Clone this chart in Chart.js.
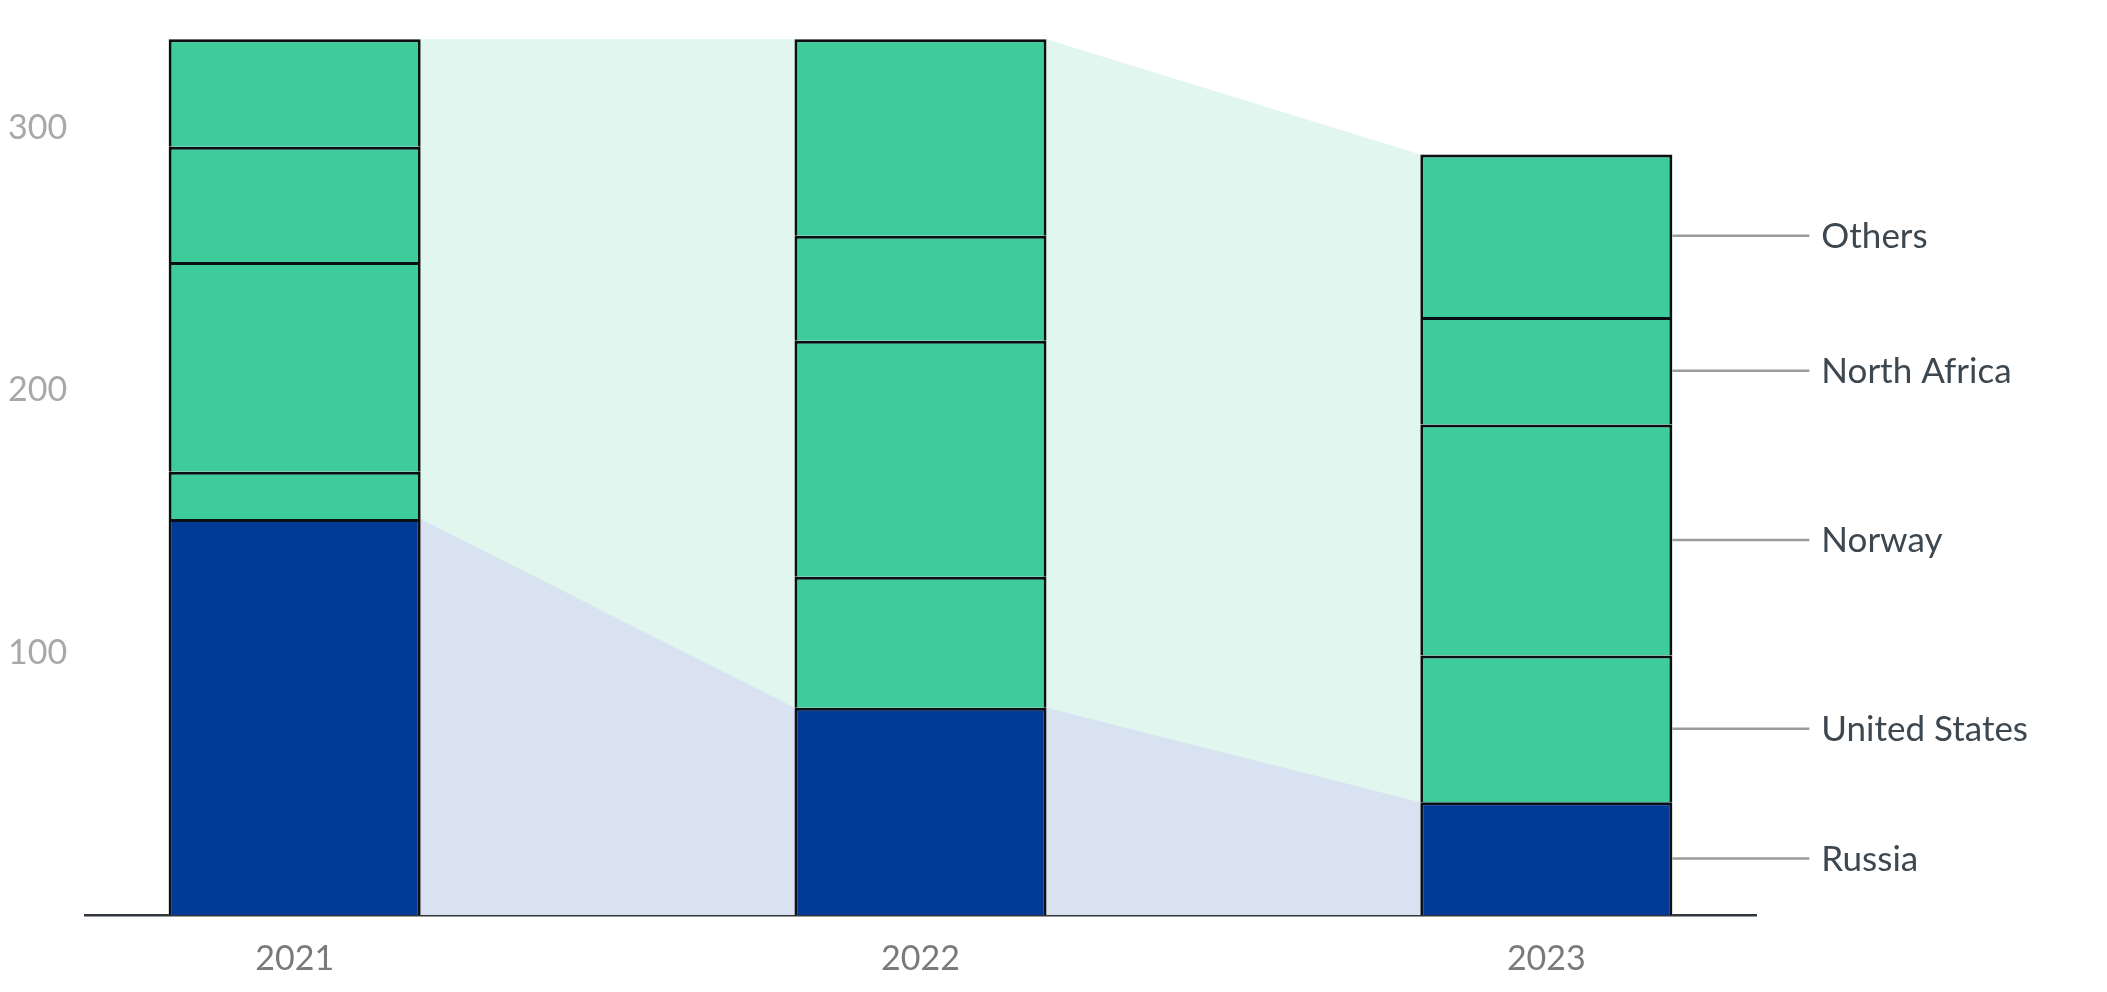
<!DOCTYPE html>
<html>
<head>
<meta charset="utf-8">
<title>Gas imports by origin</title>
<script src="https://cdn.jsdelivr.net/npm/chart.js@4.4.1/dist/chart.umd.min.js"></script>
<style>
    html, body { margin: 0; padding: 0; background: #ffffff; }
    #wrap { width: 2107px; height: 992px; }
</style>
</head>
<body>
<div id="wrap"><canvas id="gasChart" width="2107" height="992"></canvas></div>
<script>
// --- Dados ---
const years = ['2021', '2022', '2023'];
const seriesNames = ['Russia', 'United States', 'Norway', 'North Africa', 'Others'];
const russia = [151, 79, 43];
const unitedStates = [18, 50, 56];
const norway = [80, 90, 88];
const northAfrica = [44, 40, 41];
const others = [41, 75, 62];
const yTicks = [100, 200, 300];

// --- Estilo ---
const BLUE = '#003996';
const GREEN = '#3ecc9c';
const AREA_BLUE = '#d9e2f1';
const AREA_GREEN = '#e0f6ef';
const FONT = 'Lato, "Open Sans", sans-serif';
const BAR_FRAC = 0.4027; // largura da barra em relação ao espaço entre anos

window.onload = function () {
    const ctx = document.getElementById('gasChart').getContext('2d');
    const seriesValues = [russia, unitedStates, norway, northAfrica, others];

    // total de cada ano (topo da barra)
    const totals = years.map((y, i) => seriesValues.reduce((s, arr) => s + arr[i], 0));

    // pontos nas bordas das barras, para as áreas de ligação
    const half = BAR_FRAC / 2;
    function edgePoints(values) {
        const pts = [];
        values.forEach((v, i) => {
            pts.push({ x: i - half, y: v });
            pts.push({ x: i + half, y: v });
        });
        return pts;
    }

    const barSets = seriesNames.map((name, s) => ({
        type: 'bar',
        label: name,
        data: seriesValues[s].map((v, i) => ({ x: i, y: v })),
        backgroundColor: s === 0 ? BLUE : GREEN,
        borderColor: '#0a0f14',
        borderWidth: 3,
        barPercentage: BAR_FRAC,
        categoryPercentage: 1,
        order: 0
    }));

    const areaSets = [
        {
            type: 'line',
            label: 'total',
            data: edgePoints(totals),
            backgroundColor: AREA_GREEN,
            borderWidth: 0,
            pointRadius: 0,
            fill: 'origin',
            tension: 0,
            stack: 'areaTotal',
            order: 2
        },
        {
            type: 'line',
            label: 'russia',
            data: edgePoints(russia),
            backgroundColor: AREA_BLUE,
            borderWidth: 0,
            pointRadius: 0,
            fill: 'origin',
            tension: 0,
            stack: 'areaRussia',
            order: 1
        }
    ];

    // rótulos à direita da última barra, com linha guia
    const sideLabels = {
        id: 'sideLabels',
        afterDatasetsDraw(chart) {
            const c = chart.ctx;
            const last = years.length - 1;
            c.save();
            c.font = '35px ' + FONT;
            c.textBaseline = 'middle';
            c.textAlign = 'left';
            seriesNames.forEach((name, s) => {
                const bar = chart.getDatasetMeta(s).data[last];
                const yMid = (bar.y + bar.base) / 2;
                const xRight = bar.x + bar.width / 2;
                c.strokeStyle = '#9b9b9b';
                c.lineWidth = 2.5;
                c.beginPath();
                c.moveTo(xRight, yMid);
                c.lineTo(xRight + 137, yMid);
                c.stroke();
                c.fillStyle = '#3c4750';
                c.fillText(name, xRight + 149, yMid + 1);
            });
            c.restore();
        }
    };

    new Chart(ctx, {
        data: { datasets: [...barSets, ...areaSets] },
        options: {
            responsive: false,
            animation: false,
            events: [],
            layout: { padding: { top: 20, left: 8, right: 351, bottom: 0 } },
            scales: {
                x: {
                    type: 'linear',
                    stacked: true,
                    offset: false,
                    min: -0.335,
                    max: 2.335,
                    afterBuildTicks: (scale) => { scale.ticks = years.map((y, i) => ({ value: i })); },
                    afterFit: (scale) => { scale.height = 77; },
                    grid: { display: false, drawTicks: false, offset: false },
                    border: { display: true, color: '#30363c', width: 2.5 },
                    ticks: {
                        padding: 24,
                        color: '#7a7a7a',
                        font: { family: FONT, size: 34 },
                        callback: (v) => years[v]
                    }
                },
                y: {
                    stacked: true,
                    min: 0,
                    max: 340,
                    afterBuildTicks: (scale) => { scale.ticks = yTicks.map(v => ({ value: v })); },
                    afterFit: (scale) => { scale.width = 77; },
                    grid: { display: false, drawTicks: false },
                    border: { display: false },
                    ticks: {
                        crossAlign: 'far',
                        color: '#a8a8a8',
                        font: { family: FONT, size: 34 }
                    }
                }
            },
            plugins: {
                legend: { display: false },
                tooltip: { enabled: false }
            }
        },
        plugins: [sideLabels]
    });
};
</script>
</body>
</html>
